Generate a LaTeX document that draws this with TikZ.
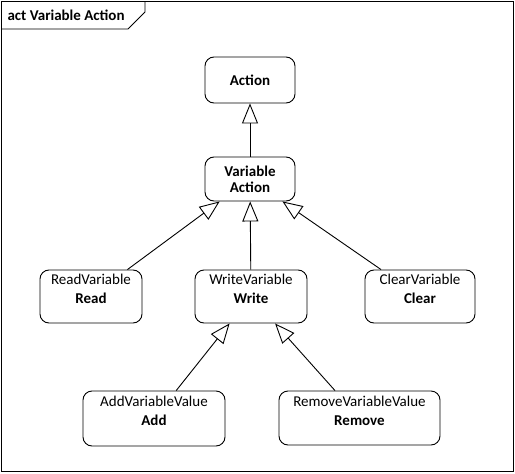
\documentclass[tikz,border=0pt]{standalone}
\usepackage{fontspec}
\setmainfont{Carlito}
\usetikzlibrary{arrows.meta}
\begin{document}
\begin{tikzpicture}[
    x=1pt, y=-1pt,
    actnode/.style={rectangle, draw, rounded corners=9pt, align=center, line width=0.9pt, font=\fontsize{15}{19}\selectfont, minimum width=#1},
    actnode/.default=90pt,
    gen/.style={-{Triangle[open, length=20pt, width=16pt]}, line width=0.9pt}
]
\useasboundingbox (0,0) rectangle (515,474);

% Frame
\draw[line width=0.9pt] (1,1) rectangle (513,471);
\draw[line width=0.9pt] (1,29) -- (128,29) -- (145,12) -- (145,1);
\node[font=\fontsize{15}{17}\selectfont\bfseries, anchor=west] (title) at (4,15) {act Variable Action};

% Top of the hierarchy
\node[actnode, minimum height=46pt, font=\fontsize{15}{18}\selectfont\bfseries] (action) at (250,80) {Action};
\node[actnode, minimum height=44pt, font=\fontsize{15}{16}\selectfont\bfseries] (var) at (250,179) {Variable\\Action};

% Second level
\node[actnode=102pt, minimum height=53pt, text depth=15pt] (read) at (91,296.5) {ReadVariable\\\textbf{Read}};
\node[actnode=112pt, minimum height=53pt, text depth=15pt] (write) at (251,296.5) {WriteVariable\\\textbf{Write}};
\node[actnode=110pt, minimum height=53pt, text depth=15pt] (clear) at (420,296.5) {ClearVariable\\\textbf{Clear}};

% Third level
\node[actnode=142pt, minimum height=55pt, text depth=15pt] (add) at (154,418.5) {AddVariableValue\\\textbf{Add}};
\node[actnode=161pt, minimum height=54pt, text depth=15pt] (remove) at (359.5,418) {RemoveVariableValue\\\textbf{Remove}};

% Generalizations
\draw[gen] (var) -- (action);
\draw[gen] (read) -- (var);
\draw[gen] (write) -- (var);
\draw[gen] (clear) -- (var);
\draw[gen] (add) -- (write);
\draw[gen] (remove) -- (write);

\end{tikzpicture}
\end{document}
